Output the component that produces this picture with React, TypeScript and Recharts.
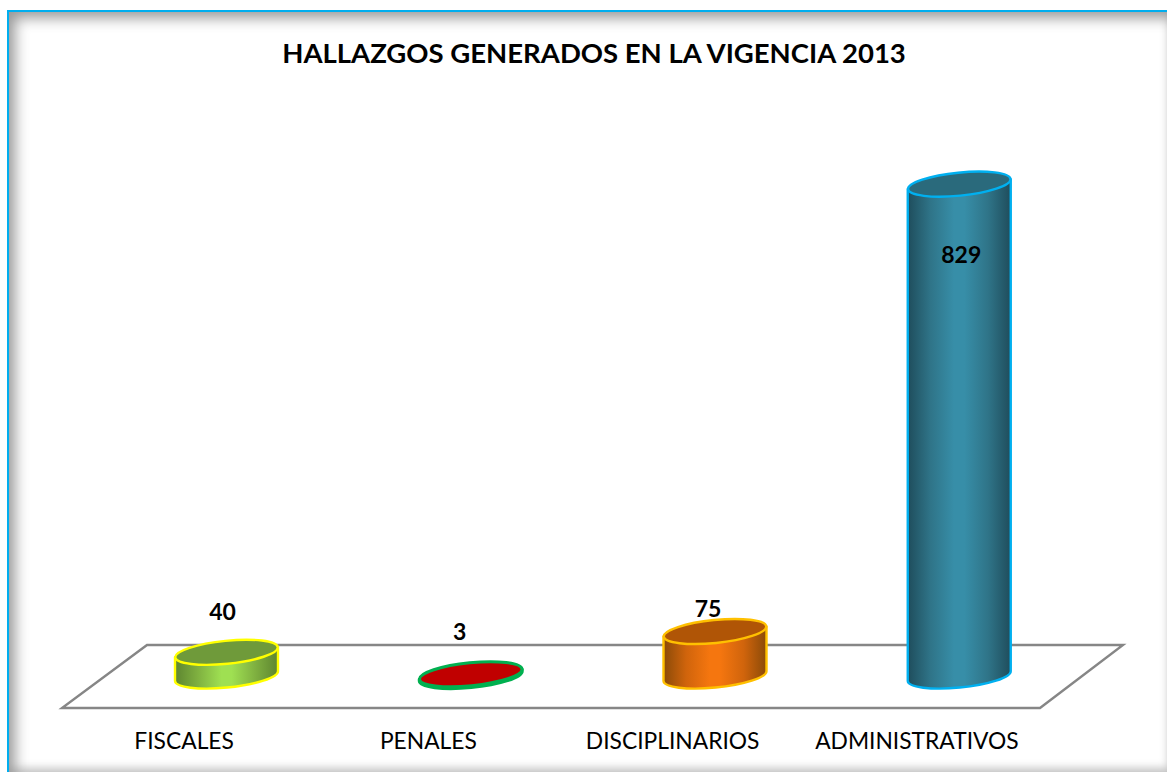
import React from "react";
import { BarChart, Bar, XAxis, YAxis, LabelList, Customized } from "recharts";

const categories = ["FISCALES", "PENALES", "DISCIPLINARIOS", "ADMINISTRATIVOS"];
const values = [40, 3, 75, 829];
const chartTitle = "HALLAZGOS GENERADOS EN LA VIGENCIA 2013";

const edgeColors = ["#5d8530", "#8a0000", "#8a4a08", "#1f4d5c"];
const midColors = ["#7fb040", "#a80000", "#d0640c", "#2f7488"];
const centerColors = ["#9fe052", "#c00000", "#f5760f", "#378ea8"];
const topColors = ["#6f9a3a", "#c00000", "#b05506", "#2a6a7c"];
const strokeColors = ["#ffff00", "#00b050", "#ffc000", "#00b0f0"];
const labelDx = [-4, -11, -7, 2];
const labelDy = [-41, -43, -24, 70];

const data = categories.map((name, i) => ({ name, value: values[i] }));
const FONT = "Lato, Carlito, sans-serif";

const Cylinder = (props: any) => {
  const { x, y, width, height, index } = props;
  const rx = width / 2;
  const ry = 11.5;
  const rot = -5.7;
  const tilt = 5;
  const cx = x + rx;
  const bot = y + height;
  const left = x;
  const right = x + width;
  const body = `M${left},${y + tilt} L${left},${bot + tilt} A${rx},${ry} ${rot} 0 0 ${right},${bot - tilt} L${right},${y - tilt} Z`;
  const sw = index === 1 ? 3 : 2.4;
  return (
    <g>
      <path d={body} fill={`url(#cyl${index})`} stroke={strokeColors[index]} strokeWidth={sw} strokeLinejoin="round" />
      <ellipse cx={cx} cy={y} rx={rx} ry={ry} transform={`rotate(${rot} ${cx} ${y})`} fill={topColors[index]} stroke={strokeColors[index]} strokeWidth={sw} />
    </g>
  );
};

const ValueLabel = (props: any) => {
  const { x, y, width, index, value } = props;
  return (
    <text
      x={x + width / 2 + labelDx[index]}
      y={y + labelDy[index]}
      textAnchor="middle"
      dominantBaseline="central"
      fontFamily={FONT}
      fontWeight={700}
      fontSize={23}
      fill="#000"
    >
      {value}
    </text>
  );
};

const Floor = () => (
  <polygon points="62,708 1040,708 1123,645 147,645" fill="#fff" stroke="#868686" strokeWidth={2.4} />
);

export default function App() {
  return (
    <div style={{ position: "absolute", left: 0, top: 0, width: 1167, height: 772, background: "#fff", overflow: "hidden" }}>
      <div
        style={{
          position: "absolute",
          left: 7,
          top: 10,
          width: 1160,
          height: 762,
          boxSizing: "border-box",
          borderLeft: "2px solid #00aeef",
          borderTop: "2px solid #00aeef",
          boxShadow: "inset 10px 10px 14px -4px #999999, inset -4px -9px 8px -5px #c4c4c4",
        }}
      />
      <div
        style={{
          position: "absolute",
          left: 0,
          width: 1188,
          top: 36,
          textAlign: "center",
          fontFamily: FONT,
          fontWeight: 700,
          fontSize: 27.5,
          lineHeight: "34px",
          color: "#000",
        }}
      >
        {chartTitle}
      </div>
      <div style={{ position: "absolute", left: 0, top: 0 }}>
        <BarChart
          width={1167}
          height={772}
          data={data}
          margin={{ top: 142, right: 86, bottom: 0, left: 104 }}
          style={{ background: "transparent" }}
        >
          <defs>
            {categories.map((_, i) => (
              <linearGradient key={i} id={`cyl${i}`} x1="0" y1="0" x2="1" y2="0">
                <stop offset="0%" stopColor={edgeColors[i]} />
                <stop offset="22%" stopColor={midColors[i]} />
                <stop offset="45%" stopColor={centerColors[i]} />
                <stop offset="55%" stopColor={centerColors[i]} />
                <stop offset="78%" stopColor={midColors[i]} />
                <stop offset="100%" stopColor={edgeColors[i]} />
              </linearGradient>
            ))}
          </defs>
          <Customized component={Floor} />
          <XAxis
            dataKey="name"
            height={96}
            axisLine={false}
            tickLine={false}
            interval={0}
            tick={{ dx: -42, dy: 49, fill: "#000", fontFamily: FONT, fontSize: 22.8 }}
          />
          <YAxis hide domain={[0, 900]} />
          <Bar dataKey="value" barSize={103} shape={Cylinder} isAnimationActive={false}>
            <LabelList dataKey="value" content={ValueLabel} />
          </Bar>
        </BarChart>
      </div>
    </div>
  );
}
